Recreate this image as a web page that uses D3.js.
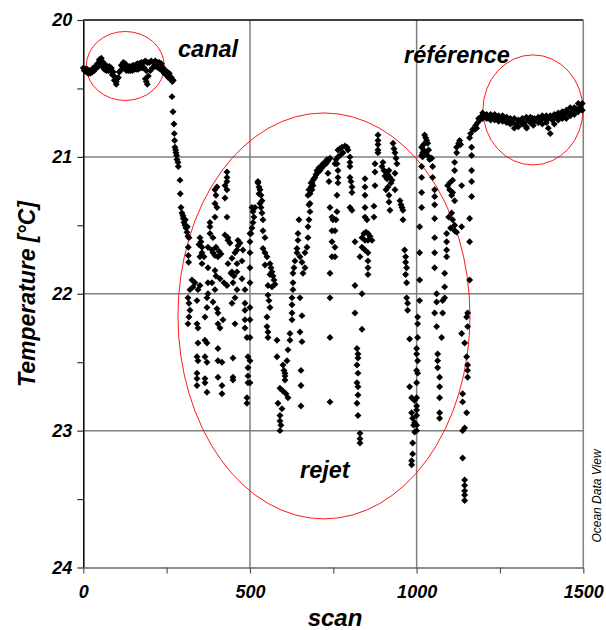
<!DOCTYPE html>
<html><head><meta charset="utf-8">
<script src="https://cdn.jsdelivr.net/npm/d3@7"></script>
<style>
html,body{margin:0;padding:0;background:#fff;}
svg{display:block;font-family:"Liberation Sans",Arial,sans-serif;}
</style></head><body>
<svg id="chart" width="606" height="630"></svg>
<script>
// ---------- axis ticks ----------
const xTicks = [0,250,500,750,1000,1250,1500];
const xLabels = [0,500,1000,1500];
const yTicks = [20,20.5,21,21.5,22,22.5,23,23.5,24];
const yLabels = [20,21,22,23,24];
const xGrid = [500,1000];
const yGrid = [21,22,23];

// ---------- data : [scan, temperature °C] ----------
const canalHaut = [[0,20.35],[6,20.36],[12,20.36],[18,20.37],[24,20.37],[30,20.35],[36,20.34],[42,20.32],[48,20.29],[54,20.28],[60,20.31],[66,20.33],[72,20.34],[78,20.34],[84,20.35],[90,20.38],[96,20.42],[99,20.45],[102,20.43],[108,20.38],[114,20.33],[120,20.31],[126,20.32],[132,20.34],[138,20.34],[144,20.34],[150,20.33],[156,20.33],[162,20.32],[168,20.32],[174,20.31],[180,20.31],[186,20.30],[192,20.31],[198,20.31],[204,20.30],[210,20.31],[216,20.30],[222,20.31],[228,20.31],[234,20.32],[240,20.35],[246,20.37],[252,20.38],[258,20.39],[264,20.42],[270,20.44]];

const canalBas = [[3,20.37],[9,20.38],[15,20.39],[21,20.39],[27,20.38],[33,20.37],[39,20.35],[45,20.34],[51,20.32],[57,20.34],[63,20.36],[69,20.37],[75,20.37],[81,20.37],[87,20.40],[93,20.44],[99,20.47],[105,20.42],[111,20.37],[117,20.34],[123,20.35],[129,20.37],[135,20.37],[141,20.37],[147,20.37],[153,20.36],[159,20.36],[165,20.36],[171,20.35],[177,20.35],[183,20.35],[189,20.37],[195,20.41],[201,20.37],[207,20.35],[213,20.34],[219,20.34],[225,20.35],[231,20.36],[237,20.37],[243,20.39],[249,20.40],[255,20.42],[261,20.43],[267,20.45],[186,20.43],[189,20.45],[192,20.47]];

const descente = [[266,20.56],[269,20.67],[272,20.76],[273,20.83],[274,20.88],[275,20.93],[277,20.95],[278,20.97],[280,20.99],[281,21.02],[284,21.04],[285,21.07],[290,21.17],[291,21.27],[293,21.37],[296,21.41],[299,21.43],[300,21.45],[302,21.48],[305,21.50],[306,21.46],[308,21.52],[311,21.55],[312,21.51],[314,21.58],[317,21.59],[315,21.66],[315,21.72],[316,21.77]];

const rejet = [
[326,21.90],[329,21.95],[320,21.97],[314,22.03],[317,22.07],[320,22.12],[317,22.17],[314,22.22],[335,21.92],[344,21.97],[350,21.94],[341,22.05],
[350,21.59],[353,21.62],[356,21.66],[350,21.73],[356,21.78],[341,22.22],[344,22.25],[344,22.36],[341,22.46],[344,22.49],[341,22.58],[341,22.62],[341,22.67],
[347,21.64],[356,21.70],[362,21.73],
[374,21.66],[374,21.81],[374,21.92],[374,22.00],[371,22.03],[371,22.10],[365,22.17],[365,22.34],[371,22.36],[365,22.46],[371,22.50],[365,22.62],[365,22.65],[371,22.72],
[380,21.48],[380,21.51],[380,21.56],[389,21.59],[386,21.68],[389,21.70],[386,21.92],[389,22.06],
[395,21.24],[401,21.22],[398,21.28],[395,21.34],[401,21.37],[395,21.44],[395,21.72],[404,21.73],[395,21.83],[395,21.97],[401,22.11],[404,22.14],[404,22.22],[404,22.40],[404,22.49],[404,22.61],
[398,21.66],[407,21.69],[413,21.71],[398,21.87],[410,21.89],
[410,22.25],[419,22.19],[416,22.50],[416,22.67],[416,22.73],
[431,21.11],[431,21.15],[431,21.18],[425,21.21],[431,21.24],[425,21.30],[431,21.44],[425,21.57],[434,21.59],[434,21.61],[440,21.63],[434,21.78],
[422,21.92],[431,21.94],[443,21.85],[452,21.87],
[446,21.74],[446,21.84],[449,21.92],[446,22.07],[455,22.22],[449,22.47],[449,22.61],[449,22.63],[455,21.70],
[464,21.61],[470,21.63],[479,21.68],[461,21.68],[461,21.78],[461,21.84],[461,21.97],[455,22.03],[464,21.65],
[476,21.76],[476,21.89],[485,21.97],[485,22.07],[485,22.12],[485,22.19],[485,22.25],[491,22.32],[494,22.46],[494,22.54],[494,22.60],[494,22.65],[491,22.76],[491,22.80],
[500,21.56],[500,21.62],[500,21.70],[500,21.81],[500,21.92],[500,22.10],[500,22.19],[500,22.32],[500,22.49],[500,22.65],
[506,21.37],[509,21.40],[515,21.37],[512,21.44],[509,21.48],[506,21.52],[503,21.56],
[524,21.19],[527,21.22],[530,21.24],[533,21.28],[536,21.32],[527,21.27],[530,21.34],[533,21.37],[536,21.41],[539,21.46],[539,21.54],[545,21.59],[539,21.67],[545,21.70],[551,21.73],[545,21.79],[524,21.18],
[560,21.78],[563,21.81],[566,21.84],[569,21.87],[572,21.90],[575,21.93],[560,21.86],[566,21.95],[554,21.94],
[554,22.01],[557,22.05],[560,22.10],[551,22.17],[551,22.24],[554,22.28],[554,22.32],
[581,22.34],[581,22.46],[599,22.52],[602,22.56],[605,22.60],[605,22.63],[590,22.69],[599,22.71],[608,22.73],[614,22.76],[584,22.80],[596,22.84],[590,22.89],[590,22.93],[593,22.96],[590,23.00],
[605,22.58],[611,22.49],[614,22.41],[620,22.34],[620,22.29],[626,22.19],[626,22.14],[626,22.08],[626,22.03],[629,21.97],[629,21.92],[629,21.85],[632,21.81],[635,21.76],[641,21.70],[641,21.67],[644,21.61],[644,21.56],[647,21.46],
[650,21.73],[656,21.77],[665,21.81],[659,21.85],[665,21.70],[671,21.66],[674,21.59],[674,21.51],[677,21.46],[680,21.40],[680,21.34],[680,21.27],[683,21.22],[686,21.19],[689,21.17],[695,21.15],[701,21.12],[701,21.10],[707,21.08],[713,21.07],[719,21.05],[725,21.04],[731,21.02],[740,21.01],
[677,21.24],[683,21.19],[689,21.21],[692,21.16],[698,21.13],[704,21.11],[710,21.10],[716,21.08],[722,21.06],[728,21.05],[734,21.03],[686,21.24],[674,21.28],[677,21.35],
[650,22.03],[656,22.16],[650,22.28],[656,22.35],[653,22.56],[653,22.67],[653,22.82],
[734,21.12],[737,21.18],[740,21.37],[746,21.44],[749,21.46],[746,21.54],[746,21.62],[746,21.73],[740,21.85],[740,22.03],[740,22.32],[740,22.79],
[761,21.05],[764,21.10],[764,21.15],[764,21.19],[761,21.28],[761,21.40],[758,21.46],[755,21.54],[755,21.66],[755,21.73],
[764,20.95],[770,20.94],[776,20.93],[785,20.92],[791,20.93],[794,20.95],[770,20.99],[779,20.97],[758,21.02],[764,21.00],[755,21.05],
[800,21.00],[800,21.04],[800,21.07],[800,21.15],[803,21.18],[806,21.22],[806,21.26],[800,21.37],[806,21.39],
[845,21.16],[845,21.22],[845,21.28],[845,21.37],[845,21.44],[851,21.46],
[836,21.59],[842,21.56],[848,21.55],[854,21.56],[860,21.58],[866,21.61],[845,21.61],[854,21.61],
[815,21.62],[836,21.66],[845,21.68],[854,21.70],[854,21.76],[854,21.81],[830,21.73],[854,21.86],[815,21.94],[836,22.00],[815,22.14],[836,22.26],[821,22.40],[824,22.44],[824,22.47],[821,22.52],[824,22.58],[821,22.65],[824,22.68],[824,22.74],[821,22.80],[824,22.89],[830,23.02],[830,23.06],[830,23.09],
[884,20.84],[884,20.88],[884,20.91],[884,20.95],[884,20.97],[875,21.05],[875,21.11],[875,21.21],[872,21.36],[872,21.44],
[896,21.07],[902,21.10],[908,21.11],[914,21.13],[920,21.15],[926,21.17],[905,21.14],[917,21.10],[899,21.04],[911,21.16],[923,21.19],
[914,21.22],[917,21.28],[917,21.33],[920,21.39],[908,21.24],
[929,20.90],[932,20.94],[935,20.97],[938,21.01],[941,21.05],[935,21.12],[935,21.24],[950,21.32],[953,21.35],[956,21.37],[959,21.39],[959,21.46],
[964,21.68],[967,21.73],[967,21.77],[970,21.81],[967,21.86],[970,21.92],[970,22.03],[973,22.07],[973,22.12],[979,22.33],[979,22.68],[985,22.76],[985,22.87],[988,22.91],[991,22.96],[994,23.01],[988,23.09],[988,23.17],[985,23.22],[985,23.25],
[1015,20.93],[1018,20.97],[1018,21.00],[1015,21.07],[1015,21.15],[1015,21.26],[1015,21.37],[1009,21.51],[1009,21.70],[1009,21.90],[1009,22.05],[1003,22.17],[1003,22.22],[1003,22.32],[1000,22.40],[1000,22.44],[1003,22.49],[1000,22.56],[1003,22.58],[1000,22.65],[994,22.78],[1000,22.76],[1000,22.82],[1000,22.85],[1000,22.89],[994,22.94],[1000,22.96],[1000,23.00],
[1024,20.84],[1027,20.86],[1030,20.88],[1033,20.90],[1021,20.95],[1027,20.97],[1033,20.99],[1039,21.02],[1015,20.99],[1021,20.91],[1036,20.95],
[1045,21.01],[1048,21.07],[1048,21.15],[1054,21.24],[1054,21.29],[1054,21.35],[1054,21.45],[1054,21.59],[1054,21.70],[1054,21.81],[1060,22.00],[1060,22.06],[1054,22.14],[1060,22.24],[1075,22.32],[1063,22.44],[1063,22.49],[1063,22.54],[1069,22.61],[1069,22.68],[1069,22.76],[1069,22.87],[1069,22.91],
[1078,22.05],[1078,22.14],[1084,21.95],[1084,22.03],[1084,21.85],[1090,21.73],[1090,21.68],[1090,21.62],[1090,21.56],
[1093,21.21],[1099,21.24],[1105,21.28],[1114,21.32],[1099,21.19],[1108,21.26],
[1105,21.41],[1108,21.46],[1114,21.50],[1114,21.54],[1096,21.44],[1102,21.52],[1120,21.55],
[1129,20.88],[1126,20.90],[1120,20.93],[1120,20.97],[1114,21.04],[1114,21.10],[1108,21.17],[1135,21.21],[1135,21.51],[1132,20.91],
[1135,22.29],[1144,22.36],[1150,22.17],[1153,22.14],[1153,22.24],[1150,22.46],[1153,22.52],[1153,22.56],[1153,22.61],[1138,22.73],[1138,22.79],[1150,22.87],[1144,22.98],[1138,23.00],[1138,23.20],[1144,23.36],[1144,23.40],[1144,23.44],[1144,23.47],[1144,23.51],
[1159,20.86],[1162,20.83],[1168,20.80],[1165,20.93],[1165,20.99],[1165,21.10],[1165,21.18],[1165,21.29],[1159,21.45],[1159,21.62],[1159,21.90],[1174,20.80],[1177,20.77],[1183,20.75],[1180,20.79],[1189,20.73],[1192,20.71],[1186,20.72]
];

const referenceHaut = [[1198,20.68],[1210,20.69],[1222,20.69],[1234,20.69],[1246,20.70],[1258,20.70],[1270,20.71],[1281,20.72],[1293,20.72],[1305,20.73],[1317,20.72],[1329,20.71],[1341,20.71],[1353,20.72],[1365,20.71],[1377,20.70],[1389,20.70],[1401,20.70],[1413,20.69],[1425,20.68],[1437,20.67],[1449,20.66],[1461,20.64],[1473,20.64],[1485,20.61],[1497,20.61]];
const referenceMilieu = [[1204,20.70],[1216,20.71],[1228,20.71],[1240,20.72],[1252,20.72],[1264,20.73],[1276,20.73],[1287,20.75],[1299,20.76],[1311,20.74],[1323,20.75],[1335,20.73],[1347,20.72],[1359,20.73],[1371,20.73],[1383,20.72],[1395,20.72],[1407,20.73],[1419,20.71],[1431,20.70],[1443,20.69],[1455,20.68],[1467,20.67],[1479,20.65],[1491,20.64]];
const referenceBas = [[1198,20.72],[1210,20.72],[1222,20.73],[1234,20.73],[1246,20.74],[1258,20.74],[1270,20.75],[1281,20.76],[1293,20.79],[1305,20.78],[1317,20.76],[1329,20.78],[1341,20.75],[1353,20.74],[1365,20.75],[1377,20.76],[1389,20.75],[1401,20.83],[1413,20.76],[1425,20.73],[1437,20.72],[1449,20.72],[1461,20.70],[1473,20.69],[1485,20.67],[1497,20.66],[1350,20.77],[1395,20.79],[1330,20.79]];

// annotated zones (centre scan, centre °C, half-width in scans, half-height in °C)
const zones = [[126,20.336,117,0.252],[1349,20.657,150,0.402],[722,22.162,438,1.483]];
const annotations = [["canal",178,57],["référence",404,63],["rejet",300,478]];

// ---------- drawing ----------
const svg = d3.select("#chart");
const x = d3.scaleLinear().domain([0,1500]).range([83.3,583.3]);
const y = d3.scaleLinear().domain([20,24]).range([20,567.5]);

const grid = svg.append("g");
grid.selectAll("line.h").data(yGrid).join("line")
  .attr("x1",x(0)).attr("x2",x(1500)).attr("y1",d=>y(d)).attr("y2",d=>y(d))
  .attr("stroke","#808080").attr("stroke-width",1.5);
grid.selectAll("line.v").data(xGrid).join("line")
  .attr("y1",y(20)).attr("y2",y(24)).attr("x1",d=>x(d)).attr("x2",d=>x(d))
  .attr("stroke","#808080").attr("stroke-width",1.5);
// frame
svg.append("line").attr("x1",x(0)).attr("x2",x(1500)).attr("y1",y(20)).attr("y2",y(20)).attr("stroke","#000").attr("stroke-width",1.5);
svg.append("line").attr("x1",x(1500)).attr("x2",x(1500)).attr("y1",y(20)).attr("y2",y(24)).attr("stroke","#808080").attr("stroke-width",1.5);

// axes
const fmtY = d => yLabels.includes(d) ? d : "";
const fmtX = d => xLabels.includes(d) ? d : "";
const gy = svg.append("g").attr("transform",`translate(${x(0)},0)`)
  .call(d3.axisLeft(y).tickValues(yTicks).tickFormat(fmtY).tickSize(6).tickSizeOuter(0).tickPadding(5));
const gx = svg.append("g").attr("transform",`translate(0,${y(24)})`)
  .call(d3.axisBottom(x).tickValues(xTicks).tickFormat(fmtX).tickSize(6).tickSizeOuter(0).tickPadding(12));
gy.select(".domain").attr("stroke","#000").attr("stroke-width",1.5);
gy.selectAll(".tick line").attr("stroke","#333").attr("stroke-width",1.2);
gx.select(".domain").attr("stroke","#666").attr("stroke-width",1.5);
gx.selectAll(".tick line").attr("stroke","#555").attr("stroke-width",1.2);
[gx,gy].forEach(g=>g.selectAll(".tick text")
  .attr("fill","#000").style("font-size","18px").style("font-style","italic").style("font-weight","bold")
  .style("font-family","'Liberation Sans',Arial,sans-serif"));

// zones
svg.append("g").selectAll("ellipse").data(zones).join("ellipse")
  .attr("cx",d=>x(d[0])).attr("cy",d=>y(d[1]))
  .attr("rx",d=>x(d[2])-x(0)).attr("ry",d=>y(20+d[3])-y(20))
  .attr("fill","none").attr("stroke","#ff1a1a").attr("stroke-width",1);

// points
const allPts = [].concat(canalHaut,canalBas,descente,rejet,referenceHaut,referenceMilieu,referenceBas);
const sym = d3.symbol().type(d3.symbolSquare).size(24);
svg.append("g").selectAll("path").data(allPts).join("path")
  .attr("d",sym)
  .attr("transform",d=>`translate(${x(d[0])},${y(d[1])}) rotate(45)`)
  .attr("fill","#000");

// texts
const bi = sel => sel.style("font-style","italic").style("font-weight","bold").attr("fill","#000");
bi(svg.append("text").attr("x",335).attr("y",626).attr("text-anchor","middle").style("font-size","24px").text("scan"));
bi(svg.append("text").attr("transform","translate(35,294) rotate(-90)").attr("text-anchor","middle").style("font-size","23px").text("Temperature [°C]"));
svg.append("g").selectAll("text").data(annotations).join("text")
  .attr("x",d=>d[1]).attr("y",d=>d[2]).style("font-size","23.5px")
  .style("font-style","italic").style("font-weight","bold").attr("fill","#000").text(d=>d[0]);
svg.append("text").attr("transform","translate(601,496) rotate(-90)").attr("text-anchor","middle")
  .style("font-size","12px").style("font-style","italic").attr("fill","#000").text("Ocean Data View");
</script>
</body></html>
